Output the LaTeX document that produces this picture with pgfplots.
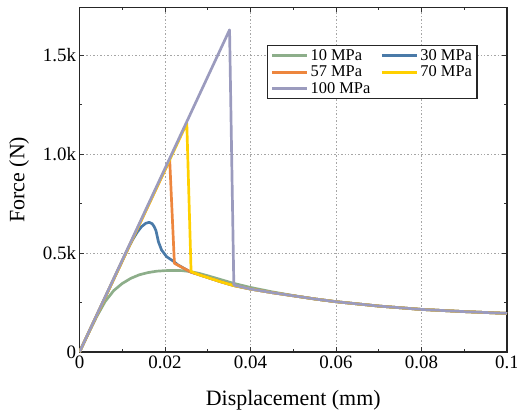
\documentclass[border=0pt]{standalone}
\usepackage{fontspec}
\setmainfont{Liberation Serif}
\usepackage{pgfplots}
\pgfplotsset{compat=1.18}
\definecolor{cA}{HTML}{8DAE8A}
\definecolor{cB}{HTML}{4A7AA8}
\definecolor{cC}{HTML}{ED863E}
\definecolor{cD}{HTML}{FFD000}
\definecolor{cE}{HTML}{9B9BBE}
\begin{document}
\begin{tikzpicture}
\begin{axis}[
  scale only axis, width=427.5bp, height=344.5bp,
  xmin=0, xmax=0.1, ymin=0, ymax=1740,
  scaled ticks=false,
  xtick={0,0.02,0.04,0.06,0.08,0.1},
  xticklabels={\textrm{0},\textrm{0.02},\textrm{0.04},\textrm{0.06},\textrm{0.08},\textrm{0.1}},
  minor xtick={0.01,0.03,0.05,0.07,0.09},
  ytick={0,500,1000,1500},
  yticklabels={\textrm{0},\textrm{0.5k},\textrm{1.0k},\textrm{1.5k}},
  minor ytick={250,750,1250},
  tick align=inside,
  major tick length=5bp, minor tick length=3bp,
  tick style={black!80, line width=0.8pt},
  axis line style={black!85, line width=1.2pt},
  xmajorgrids, ymajorgrids,
  major grid style={gray!70, line width=0.6pt, dash pattern=on 1.5pt off 2pt},
  ticklabel style={font=\fontsize{19}{22}\selectfont},
  label style={font=\fontsize{22}{26}\selectfont},
  xlabel={Displacement (mm)}, ylabel={Force (N)},
  xlabel style={at={(axis description cs:0.5,0)}, anchor=base, yshift=-53bp},
  ylabel style={at={(axis description cs:0,0.5)}, anchor=base, yshift=55bp},
  legend columns=2, legend cell align=left,
  legend style={at={(rel axis cs:0.4386,0.891)}, anchor=north west,
    draw=black!85, line width=1.2pt, font=\fontsize{16.5}{19}\selectfont,
    /tikz/every even column/.append style={column sep=8bp}},
  legend image code/.code={\draw[#1, line width=3pt] (0bp,0bp) -- (35bp,0bp);},
  every axis plot/.append style={line width=2.7pt, line join=round},
]
\addplot[cA] coordinates {
(0,0) (0.002,90) (0.004,178) (0.006,255) (0.008,310) (0.010,346) (0.012,372)
(0.014,390) (0.016,401) (0.018,408) (0.020,411) (0.022,412) (0.024,411)
(0.026,406) (0.028,397) (0.030,385) (0.033,366) (0.036,347) (0.040,326)
(0.045,304) (0.050,285) (0.055,268) (0.060,254) (0.070,232) (0.080,215)
(0.090,204) (0.100,195)};
\addlegendentry{10 MPa}
\addplot[cB] coordinates {
(0,0) (0.0115,529) (0.0125,570) (0.0135,605) (0.0145,633) (0.0155,650)
(0.0163,655) (0.0170,648) (0.0175,632) (0.0179,612) (0.01846,557) (0.0192,515)
(0.0204,481) (0.0220,458) (0.0230,440) (0.026,404) (0.028,390) (0.030,376)
(0.033,355) (0.036,336) (0.040,318) (0.045,300) (0.050,284) (0.055,268)
(0.060,254) (0.070,232) (0.080,215) (0.090,204) (0.100,195)};
\addlegendentry{30 MPa}
\addplot[cC] coordinates {
(0,0) (0.0211,970) (0.0222,448) (0.026,404) (0.028,390) (0.030,376)
(0.033,355) (0.036,336) (0.040,318) (0.045,300) (0.050,284) (0.055,268)
(0.060,254) (0.070,232) (0.080,215) (0.090,204) (0.100,195)};
\addlegendentry{57 MPa}
\addplot[cD] coordinates {
(0,0) (0.0251,1155) (0.0261,406) (0.028,390) (0.030,376)
(0.033,355) (0.036,336) (0.040,318) (0.045,300) (0.050,284) (0.055,268)
(0.060,254) (0.070,232) (0.080,215) (0.090,204) (0.100,195)};
\addlegendentry{70 MPa}
\addplot[cE] coordinates {
(0,0) (0.0351,1627) (0.0361,338) (0.040,318) (0.045,300) (0.050,284) (0.055,268)
(0.060,254) (0.070,232) (0.080,215) (0.090,204) (0.100,195)};
\addlegendentry{100 MPa}
\end{axis}
\pgfresetboundingbox
\path ([shift={(-79.5bp,-59bp)}]current axis.south west) rectangle ([shift={(10bp,7.5bp)}]current axis.north east);
\end{tikzpicture}
\end{document}
